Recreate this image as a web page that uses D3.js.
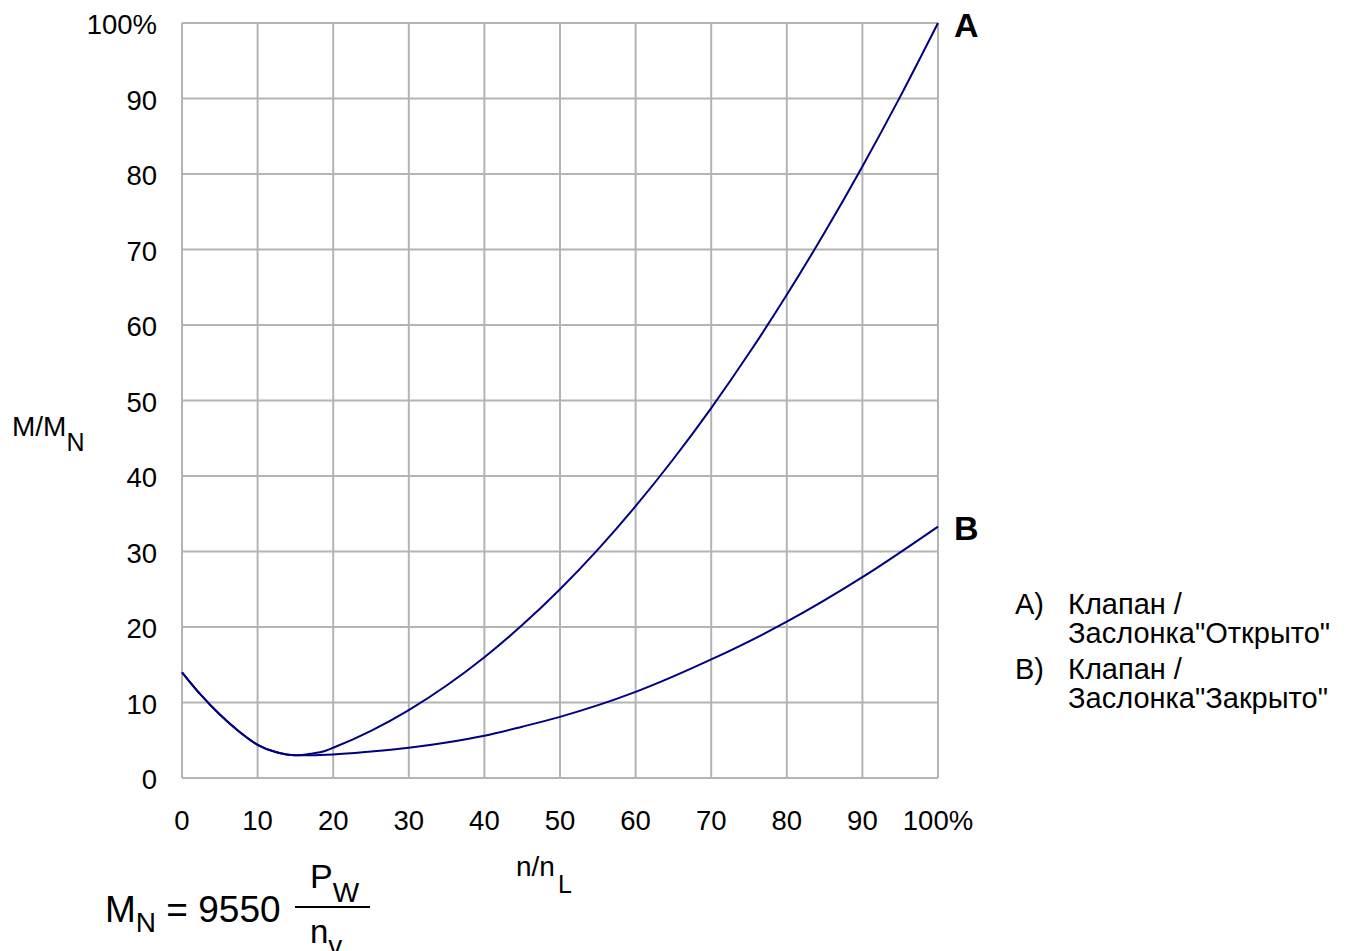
<!DOCTYPE html>
<html>
<head>
<meta charset="utf-8">
<script src="https://cdn.jsdelivr.net/npm/d3@7"></script>
<style>
  body { margin: 0; background: #fff; }
  text { font-family: "Liberation Sans", Arial, sans-serif; fill: #000; }
</style>
</head>
<body>
<script>
// common start of both curves (0..15 %)
const startX = [0, 2.5, 5, 7.5, 10, 12.5, 15];
const startY = [14, 11, 8.4, 6.2, 4.4, 3.4, 3.0];

// curve A (open)
const aX = [17, 19, 20, 25, 30, 35, 40, 45, 50, 55, 60, 65, 70, 75, 80, 85, 90, 95, 100];
const aY = [3.2, 3.6, 4.0, 6.25, 9, 12.25, 16, 20.25, 25, 30.25, 36, 42.25, 49, 56.25, 64, 72.25, 81, 90.25, 100];

// curve B (closed)
const bX = [17, 20, 25, 30, 35, 40, 45, 50, 60, 70, 80, 90, 100];
const bY = [3.0, 3.1, 3.5, 4.0, 4.7, 5.6, 6.8, 8.1, 11.4, 15.7, 20.7, 26.6, 33.3];

const xTicks = [0, 10, 20, 30, 40, 50, 60, 70, 80, 90, 100];
const yTicks = [0, 10, 20, 30, 40, 50, 60, 70, 80, 90, 100];

const legendItems = [
  ["A)", "Клапан /", "Заслонка\"Открыто\""],
  ["B)", "Клапан /", "Заслонка\"Закрыто\""]
];

const width = 1345, height = 951;
const svg = d3.select("body").append("svg")
  .attr("width", width)
  .attr("height", height);

const x = d3.scaleLinear().domain([0, 100]).range([182, 938]);
const y = d3.scaleLinear().domain([0, 100]).range([778, 23]);

// grid
svg.append("g")
  .selectAll("line")
  .data(xTicks)
  .join("line")
  .attr("x1", d => x(d)).attr("x2", d => x(d))
  .attr("y1", y(0)).attr("y2", y(100))
  .attr("stroke", "#b4b4b4")
  .attr("stroke-width", 2);

svg.append("g")
  .selectAll("line")
  .data(yTicks)
  .join("line")
  .attr("x1", x(0)).attr("x2", x(100))
  .attr("y1", d => y(d)).attr("y2", d => y(d))
  .attr("stroke", "#b4b4b4")
  .attr("stroke-width", 2);

// tick labels
svg.append("g")
  .selectAll("text")
  .data(yTicks)
  .join("text")
  .attr("x", 157)
  .attr("y", d => y(d) + 11)
  .attr("text-anchor", "end")
  .style("font-size", "27.5px")
  .text(d => d === 100 ? "100%" : d);

svg.append("g")
  .selectAll("text")
  .data(xTicks)
  .join("text")
  .attr("x", d => x(d))
  .attr("y", 830)
  .attr("text-anchor", "middle")
  .style("font-size", "27.5px")
  .text(d => d === 100 ? "100%" : d);

// curves
const line = d3.line()
  .x(d => x(d[0]))
  .y(d => y(d[1]))
  .curve(d3.curveMonotoneX);

const start = startX.map((v, i) => [v, startY[i]]);
const curveA = start.concat(aX.map((v, i) => [v, aY[i]]));
const curveB = start.concat(bX.map((v, i) => [v, bY[i]]));

[curveA, curveB].forEach(c => {
  svg.append("path")
    .datum(c)
    .attr("d", line)
    .attr("fill", "none")
    .attr("stroke", "#000080")
    .attr("stroke-width", 2);
});

// curve labels
svg.append("text").attr("x", 954).attr("y", 37)
  .style("font-size", "34px").style("font-weight", "bold").text("A");
svg.append("text").attr("x", 954).attr("y", 540)
  .style("font-size", "34px").style("font-weight", "bold").text("B");

// axis titles
const yt = svg.append("text").attr("x", 12).attr("y", 436).style("font-size", "28px");
yt.append("tspan").text("M/M");
yt.append("tspan").attr("dy", 15).style("font-size", "25px").text("N");

const xt = svg.append("text").attr("x", 516).attr("y", 876).style("font-size", "28px");
xt.append("tspan").text("n/n");
xt.append("tspan").attr("dx", 3).attr("dy", 17).style("font-size", "25px").text("L");

// legend
const leg = svg.append("g")
  .selectAll("g")
  .data(legendItems)
  .join("g")
  .attr("transform", (d, i) => `translate(1015, ${614 + i * 65})`);
leg.append("text").style("font-size", "29px").text(d => d[0]);
leg.append("text").attr("x", 53).style("font-size", "29px").text(d => d[1]);
leg.append("text").attr("x", 53).attr("y", 29).style("font-size", "29px").text(d => d[2]);

// formula
const f = svg.append("text").attr("x", 105).attr("y", 922).style("font-size", "37px");
f.append("tspan").text("M");
f.append("tspan").attr("dy", 10).style("font-size", "28px").text("N");
f.append("tspan").attr("dy", -10).text(" = 9550");

svg.append("line")
  .attr("x1", 295).attr("x2", 370)
  .attr("y1", 907).attr("y2", 907)
  .attr("stroke", "#000").attr("stroke-width", 2);

const pw = svg.append("text").attr("x", 310).attr("y", 888).style("font-size", "34px");
pw.append("tspan").text("P");
pw.append("tspan").attr("dy", 14).style("font-size", "28px").text("W");

const nv = svg.append("text").attr("x", 310).attr("y", 943).style("font-size", "33px");
nv.append("tspan").text("n");
nv.append("tspan").attr("dy", 12).style("font-size", "28px").text("v");
</script>
</body>
</html>
